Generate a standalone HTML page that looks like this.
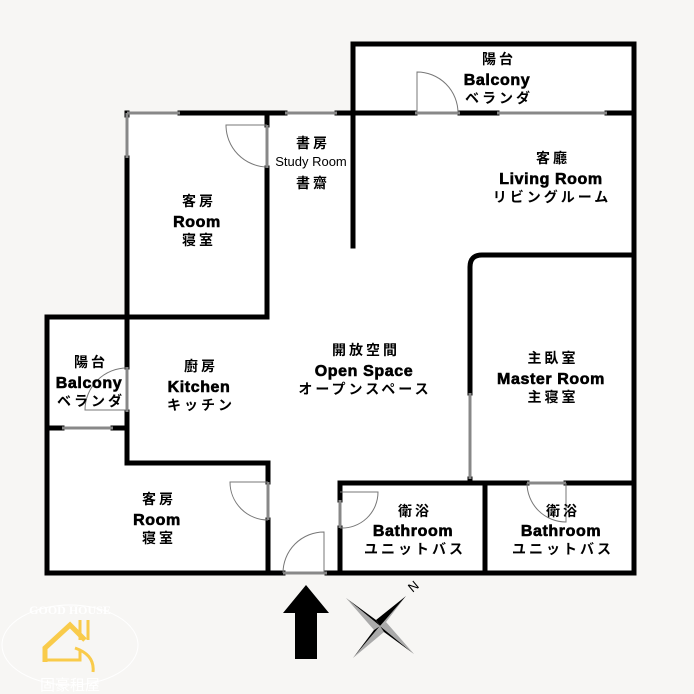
<!DOCTYPE html>
<html><head><meta charset="utf-8"><style>
html,body{margin:0;padding:0;background:#f7f6f4;}
svg{display:block;}
text{font-family:"Liberation Sans",Arial,sans-serif;text-anchor:middle;fill:#000;}
text.c{font-family:"Noto Sans CJK JP","Liberation Sans",sans-serif;font-size:14px;letter-spacing:3px;font-weight:700;}
text.e{font-family:"Liberation Sans",Arial,sans-serif;font-size:16px;font-weight:700;stroke:#000;stroke-width:0.6px;letter-spacing:0.6px;}
</style></head><body>
<svg width="694" height="694" viewBox="0 0 694 694" xmlns="http://www.w3.org/2000/svg">
<g fill="#fff">
<rect x="352" y="44" width="282" height="69"/>
<rect x="127" y="113" width="507" height="460"/>
<rect x="47" y="317" width="80" height="256"/>
</g>
<g stroke="#000" stroke-width="5" fill="none" stroke-linecap="square">
<path d="M353 113 V44 H634 V573"/>
<path d="M180 113 H285"/><path d="M337 113 H415"/><path d="M460 113 H497"/><path d="M607 113 H634"/>
<path d="M127 113 V115"/>
<path d="M127 158 V317"/><path d="M267 113 V125"/><path d="M267 168 V317"/><path d="M127 317 H267"/>
<path d="M353 113 V246"/>
<path d="M470 393 V267 Q470 255 482 255 H634"/>
<path d="M470 479 V483"/>
<path d="M340 483 H527"/><path d="M566 483 H634"/>
<path d="M485 483 V573"/>
<path d="M340 483 V500"/><path d="M340 528 V573"/>
<path d="M47 573 H283"/><path d="M327 573 H634"/>
<path d="M47 317 H127"/><path d="M47 317 V573"/>
<path d="M127 317 V367"/><path d="M127 412 V463 H268 V482"/><path d="M268 520 V573"/>
<path d="M47 428 H62"/><path d="M113 428 H127"/>
</g>
<g stroke="#888" stroke-width="3">
<path d="M127 113 H180"/><path d="M285 113 H337"/><path d="M497 113 H607"/><path d="M415 113 H460"/>
<path d="M127 113 V158"/><path d="M62 428 H113"/><path d="M470 393 V479"/>
<path d="M267 125 V168"/><path d="M127 367 V412"/><path d="M268 482 V520"/>
<path d="M340 500 V528"/><path d="M527 483 H566"/><path d="M283 573 H327"/>
</g>
<g stroke="#777" stroke-width="1" fill="none">
<path d="M417 113 V72 A41 41 0 0 1 458 113"/>
<path d="M267 125 H226 A42 42 0 0 0 267 167"/>
<path d="M127 410 H85 A42 42 0 0 1 127 368"/>
<path d="M268 482 H230 A38 38 0 0 0 268 520"/>
<path d="M324 573 V532 A41 41 0 0 0 283 573"/>
<path d="M340 492 H378 A36 36 0 0 1 340 528"/>
<path d="M566 483 V522 A39 39 0 0 1 527 483"/>
</g>
<g font-weight="bold">
<text class="c" x="499" y="64">陽台</text><text class="e" x="497" y="85">Balcony</text><text class="c" x="499" y="103">ベランダ</text>
<text class="c" x="313" y="148">書房</text><text x="311" y="166" style="font-size:13px;font-weight:400">Study Room</text><text class="c" x="313" y="188">書齋</text>
<text class="c" x="553" y="163">客廳</text><text class="e" x="551" y="184">Living  Room</text><text class="c" x="552" y="202">リビングルーム</text>
<text class="c" x="199" y="206">客房</text><text class="e" x="197" y="227">Room</text><text class="c" x="199" y="245">寝室</text>
<text class="c" x="201" y="371">廚房</text><text class="e" x="199" y="392">Kitchen</text><text class="c" x="201" y="410">キッチン</text>
<text class="c" x="91" y="367">陽台</text><text class="e" x="89" y="388">Balcony</text><text class="c" x="91" y="406">ベランダ</text>
<text class="c" x="366" y="355">開放空間</text><text class="e" x="364" y="376">Open Space</text><text class="c" x="365" y="394">オープンスペース</text>
<text class="c" x="553" y="363">主臥室</text><text class="e" x="551" y="384">Master Room</text><text class="c" x="553" y="402">主寝室</text>
<text class="c" x="415" y="516">衛浴</text><text class="e" x="413" y="536">Bathroom</text><text class="c" x="415" y="554">ユニットバス</text>
<text class="c" x="563" y="516">衛浴</text><text class="e" x="561" y="536">Bathroom</text><text class="c" x="563" y="554">ユニットバス</text>
<text class="c" x="159" y="504">客房</text><text class="e" x="157" y="525">Room</text><text class="c" x="159" y="543">寝室</text>
</g>
<path d="M306 585 L329 613 H317 V659 H295 V613 H283 Z" fill="#000"/>
<g transform="translate(380,626)">
<path d="M0 0 L26 -30 L6 -4 Z" fill="#aaa"/><path d="M0 0 L26 -30 L-4 -6 Z" fill="#000"/>
<path d="M0 0 L-27 32 L-6 4 Z" fill="#000"/><path d="M0 0 L-27 32 L4 6 Z" fill="#aaa"/>
<path d="M0 0 L-34 -28 L-4 -6 Z" fill="#000"/><path d="M0 0 L-34 -28 L-6 4 Z" fill="#aaa"/>
<path d="M0 0 L34 28 L4 6 Z" fill="#000"/><path d="M0 0 L34 28 L6 -4 Z" fill="#aaa"/>
</g>
<text x="413" y="591" transform="rotate(-40 413 586)" style="font-size:13px">N</text>
<ellipse cx="70" cy="645" rx="68" ry="40" fill="none" stroke="#fff" stroke-width="1"/>
<text x="70" y="614" style="font-size:12px;font-weight:bold;fill:#fff;font-family:'Liberation Serif',serif">GOOD HOUSE</text>
<path d="M45 662 V648 L70 625 L85 640" fill="none" stroke="#f9cb4a" stroke-width="5"/>
<path d="M45 660 H80 V650 M80 620 V640 M88 620 V640 M75 648 Q95 655 93 672" fill="none" stroke="#f9cb4a" stroke-width="3"/>
<text x="70" y="690" style="font-size:15px;fill:#fff">固豪租屋</text>
</svg>
</body></html>
